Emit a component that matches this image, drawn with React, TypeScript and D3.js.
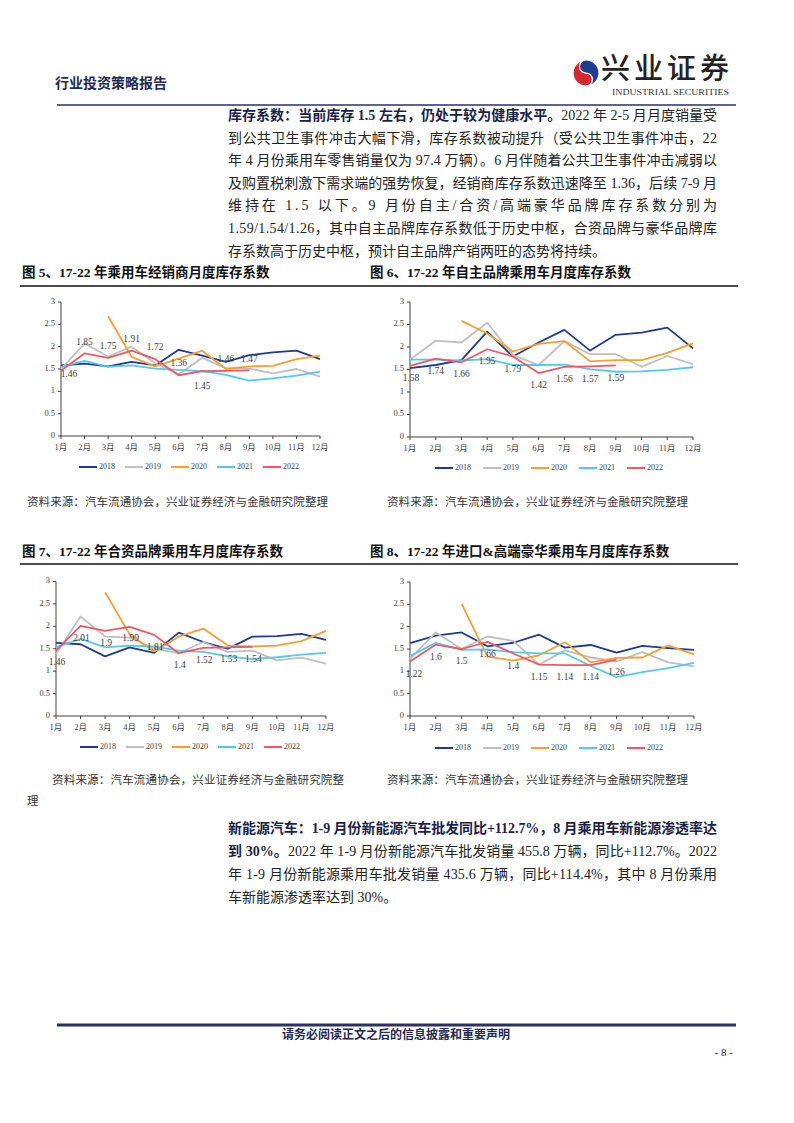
// 乘用车库存系数页面：四张折线小图 + 正文
import React from 'react'
import * as d3 from 'd3'

const MONTHS = ['1月', '2月', '3月', '4月', '5月', '6月', '7月', '8月', '9月', '10月', '11月', '12月']
const YEARS = ['2018', '2019', '2020', '2021', '2022']
const Y_TICKS = [0, 0.5, 1, 1.5, 2, 2.5, 3]

// 图5 经销商
const dealer2018 = [1.58, 1.62, 1.56, 1.66, 1.58, 1.93, 1.80, 1.66, 1.81, 1.87, 1.91, 1.72]
const dealer2019 = [1.50, 2.07, 1.78, 2.00, 1.63, 1.38, 1.75, 1.52, 1.51, 1.40, 1.50, 1.33]
const dealer2020 = [null, null, 2.68, 1.77, 1.56, 1.73, 1.91, 1.50, 1.56, 1.57, 1.72, 1.80]
const dealer2021 = [1.55, 1.68, 1.55, 1.58, 1.51, 1.48, 1.45, 1.37, 1.24, 1.29, 1.35, 1.44]
const dealer2022 = [1.46, 1.85, 1.75, 1.91, 1.72, 1.36, 1.45, 1.46, 1.47]

// 图6 自主品牌
const own2018 = [1.53, 1.60, 1.71, 2.34, 1.79, 2.10, 2.38, 1.92, 2.27, 2.32, 2.43, 1.97]
const own2019 = [1.72, 2.14, 2.10, 2.54, 1.82, 1.60, 2.13, 1.84, 1.84, 1.56, 1.80, 1.62]
const own2020 = [null, null, 2.58, 2.30, 1.90, 2.07, 2.13, 1.68, 1.71, 1.71, 1.87, 2.08]
const own2021 = [1.72, 1.72, 1.70, 1.73, 1.60, 1.60, 1.61, 1.51, 1.45, 1.46, 1.49, 1.55]
const own2022 = [1.58, 1.74, 1.66, 1.95, 1.79, 1.42, 1.56, 1.57, 1.59]

// 图7 合资品牌
const jv2018 = [1.63, 1.60, 1.33, 1.53, 1.41, 1.86, 1.65, 1.50, 1.77, 1.78, 1.83, 1.70]
const jv2019 = [1.38, 2.22, 1.77, 1.75, 1.50, 1.40, 1.65, 1.43, 1.46, 1.24, 1.30, 1.17]
const jv2020 = [null, null, 2.76, 1.82, 1.44, 1.77, 1.95, 1.57, 1.55, 1.57, 1.67, 1.90]
const jv2021 = [1.53, 1.72, 1.53, 1.57, 1.55, 1.46, 1.43, 1.33, 1.27, 1.31, 1.37, 1.41]
const jv2022 = [1.46, 2.01, 1.9, 1.99, 1.81, 1.4, 1.52, 1.53, 1.54]

// 图8 进口&高端豪华
const lux2018 = [1.63, 1.80, 1.87, 1.56, 1.64, 1.82, 1.53, 1.59, 1.42, 1.57, 1.52, 1.48]
const lux2019 = [1.28, 1.87, 1.50, 1.78, 1.68, 1.15, 1.47, 1.31, 1.22, 1.43, 1.20, 1.11]
const lux2020 = [null, null, 2.51, 1.33, 1.24, 1.36, 1.65, 1.20, 1.30, 1.31, 1.58, 1.38]
const lux2021 = [1.34, 1.64, 1.48, 1.49, 1.43, 1.40, 1.40, 1.12, 0.87, 0.98, 1.07, 1.19]
const lux2022 = [1.22, 1.6, 1.5, 1.66, 1.4, 1.15, 1.14, 1.14, 1.26]

const COLORS = ['#1f3a8f', '#bfbfbf', '#f5a032', '#56c8f0', '#ee5a63']
const SERIF = '"Liberation Serif", "Noto Sans CJK SC", serif'
const CJK = '"Liberation Serif", "Noto Sans CJK SC", sans-serif'

const CHARTS = [
  {
    series: [dealer2018, dealer2019, dealer2020, dealer2021, dealer2022],
    frame: { left: 61, right: 320, top: 302, bottom: 436, legendX: 79, legendStep: 46, legendY: 467 },
    labelOffsets: [[8, 4], [0, -11], [0, -11], [0, -11], [0, -11], [0, -11], [0, 16], [0, -11], [0, -11]],
  },
  {
    series: [own2018, own2019, own2020, own2021, own2022],
    frame: { left: 410, right: 693, top: 302, bottom: 437, legendX: 435, legendStep: 48, legendY: 468 },
    labelOffsets: [[1, 13], ...Array(8).fill([0, 13])],
  },
  {
    series: [jv2018, jv2019, jv2020, jv2021, jv2022],
    frame: { left: 56, right: 326, top: 581.5, bottom: 716, legendX: 80, legendStep: 46, legendY: 747 },
    labelOffsets: Array(9).fill([1, 12.5]),
  },
  {
    series: [lux2018, lux2019, lux2020, lux2021, lux2022],
    frame: { left: 410, right: 694, top: 582, bottom: 716, legendX: 435, legendStep: 48, legendY: 748 },
    labelOffsets: [[4, 13], ...Array(8).fill([0, 13])],
  },
]

function LineChart({ series, frame, labelOffsets }) {
  const x = d3.scalePoint().domain(MONTHS).range([frame.left, frame.right])
  const y = d3.scaleLinear().domain([0, 3]).range([frame.bottom, frame.top])
  const line = d3.line<number | null>()
    .defined(v => v != null)
    .x((v, i) => x(MONTHS[i]))
    .y(v => y(v as number))
  const last = series[series.length - 1]

  return (
    <g fontFamily={SERIF}>
      {/* 纵轴 */}
      <line x1={frame.left} x2={frame.left} y1={frame.top} y2={frame.bottom} stroke="#404040" strokeWidth={1} />
      {Y_TICKS.map(t => (
        <g key={t}>
          <line x1={frame.left - 3} x2={frame.left} y1={y(t)} y2={y(t)} stroke="#404040" />
          <text x={frame.left - 6} y={y(t)} textAnchor="end" dominantBaseline="middle" fontSize={8.5} fill="#404040">{t}</text>
        </g>
      ))}
      {/* 横轴 */}
      <line x1={frame.left} x2={frame.right} y1={frame.bottom} y2={frame.bottom} stroke="#404040" strokeWidth={1} />
      {MONTHS.map(m => (
        <g key={m}>
          <line x1={x(m)} x2={x(m)} y1={frame.bottom} y2={frame.bottom + 3} stroke="#404040" />
          <text x={x(m)} y={frame.bottom + 12} textAnchor="middle" dominantBaseline="middle" fontSize={8.5} fill="#404040">{m}</text>
        </g>
      ))}
      {series.map((s, i) => (
        <path key={i} d={line(s) || ''} fill="none" stroke={COLORS[i]} strokeWidth={1.8} strokeLinejoin="round" />
      ))}
      {last.map((v, i) => (
        <text key={i} x={x(MONTHS[i]) + labelOffsets[i][0]} y={y(v) + labelOffsets[i][1]}
          textAnchor="middle" dominantBaseline="middle" fontSize={9.5} fill="#404040">{String(v)}</text>
      ))}
      {/* 图例 */}
      {YEARS.map((yr, i) => {
        const lx = frame.legendX + i * frame.legendStep
        return (
          <g key={yr}>
            <line x1={lx} x2={lx + 18} y1={frame.legendY} y2={frame.legendY} stroke={COLORS[i]} strokeWidth={2} />
            <text x={lx + 20} y={frame.legendY} dominantBaseline="middle" fontSize={8} fill="#404040">{yr}</text>
          </g>
        )
      })}
    </g>
  )
}

const PARA1 = [
  [{ b: true, t: '库存系数：当前库存 1.5 左右，仍处于较为健康水平。' }, { t: '2022 年 2-5 月月度销量受' }],
  [{ t: '到公共卫生事件冲击大幅下滑，库存系数被动提升（受公共卫生事件冲击，22' }],
  [{ t: '年 4 月份乘用车零售销量仅为 97.4 万辆）。6 月伴随着公共卫生事件冲击减弱以' }],
  [{ t: '及购置税刺激下需求端的强势恢复，经销商库存系数迅速降至 1.36，后续 7-9 月' }],
  [{ t: '维持在 1.5 以下。9 月份自主/合资/高端豪华品牌库存系数分别为' }],
  [{ t: '1.59/1.54/1.26，其中自主品牌库存系数低于历史中枢，合资品牌与豪华品牌库' }],
  [{ t: '存系数高于历史中枢，预计自主品牌产销两旺的态势将持续。' }],
]
const PARA2 = [
  [{ b: true, t: '新能源汽车：1-9 月份新能源汽车批发同比+112.7%，8 月乘用车新能源渗透率达' }],
  [{ b: true, t: '到 30%。' }, { t: '2022 年 1-9 月份新能源汽车批发销量 455.8 万辆，同比+112.7%。2022' }],
  [{ t: '年 1-9 月份新能源乘用车批发销量 435.6 万辆，同比+114.4%，其中 8 月份乘用' }],
  [{ t: '车新能源渗透率达到 30%。' }],
]

function Paragraph({ lines, x, y0, step }) {
  return (
    <g fontFamily={CJK} fontSize={14}>
      {lines.map((segs, i) => (
        <text key={i} x={x} y={y0 + i * step} dominantBaseline="middle"
          textLength={i < lines.length - 1 ? 489 : undefined} lengthAdjust="spacing">
          {segs.map((s, j) => (
            <tspan key={j} fontWeight={s.b ? 700 : 400} fill={s.b ? '#1b1f4b' : '#222'}>{s.t}</tspan>
          ))}
        </text>
      ))}
    </g>
  )
}

const SOURCE = '资料来源：汽车流通协会，兴业证券经济与金融研究院整理'

export default function App() {
  return (
    <svg width={794} height={1123} style={{ position: 'absolute', left: 0, top: 0, background: '#fff' }}>
      {/* 页眉 */}
      <text x={55} y={85} fontFamily={CJK} fontSize={14} fontWeight={700} fill="#1f2a55" dominantBaseline="middle">行业投资策略报告</text>
      <g stroke="#fff" strokeWidth={1.2}>
        <path d="M 586 60 A 13 13 0 0 0 586 86 A 6.5 6.5 0 0 0 586 73 A 6.5 6.5 0 0 1 586 60 Z" fill="#d7282f" />
        <path d="M 586 60 A 13 13 0 0 1 586 86 A 6.5 6.5 0 0 0 586 73 A 6.5 6.5 0 0 1 586 60 Z" fill="#1d3d8f" />
      </g>
      <text x={601} y={72} fontFamily={CJK} fontSize={29} fontWeight={500} fill="#222" dominantBaseline="middle" textLength={128} lengthAdjust="spacing">兴业证券</text>
      <text x={612} y={93} fontFamily={SERIF} fontSize={8.5} fill="#333" dominantBaseline="middle" textLength={117} lengthAdjust="spacingAndGlyphs">INDUSTRIAL SECURITIES</text>
      <line x1={57} x2={736} y1={105} y2={105} stroke="#2b2f63" strokeWidth={1.5} />

      <Paragraph lines={PARA1} x={228} y0={117} step={22.6} />

      {/* 图题 */}
      <g fontFamily={CJK} fontSize={13.5} fontWeight={700} fill="#111">
        <text x={22} y={274} dominantBaseline="middle">图 5、17-22 年乘用车经销商月度库存系数</text>
        <text x={370} y={274} dominantBaseline="middle">图 6、17-22 年自主品牌乘用车月度库存系数</text>
        <text x={22} y={553} dominantBaseline="middle">图 7、17-22 年合资品牌乘用车月度库存系数</text>
        <text x={370} y={553} dominantBaseline="middle">图 8、17-22 年进口&amp;高端豪华乘用车月度库存系数</text>
      </g>
      <line x1={20} x2={738} y1={286} y2={286} stroke="#111" strokeWidth={1.5} />
      <line x1={20} x2={738} y1={564} y2={564} stroke="#111" strokeWidth={1.5} />

      {CHARTS.map((c, i) => <LineChart key={i} {...c} />)}

      {/* 资料来源 */}
      <g fontFamily={CJK} fontSize={11.5} fill="#333">
        <text x={27} y={503} dominantBaseline="middle" textLength={301} lengthAdjust="spacing">{SOURCE}</text>
        <text x={387} y={503} dominantBaseline="middle" textLength={301} lengthAdjust="spacing">{SOURCE}</text>
        <text x={52} y={781} dominantBaseline="middle" textLength={292} lengthAdjust="spacing">{SOURCE.slice(0, -1)}</text>
        <text x={27} y={802} dominantBaseline="middle">{SOURCE.slice(-1)}</text>
        <text x={387} y={781} dominantBaseline="middle" textLength={301} lengthAdjust="spacing">{SOURCE}</text>
      </g>

      <Paragraph lines={PARA2} x={228} y0={830} step={23} />

      {/* 页脚 */}
      <line x1={57} x2={736} y1={1025} y2={1025} stroke="#2e3160" strokeWidth={3} />
      <text x={396} y={1036} textAnchor="middle" dominantBaseline="middle" fontFamily={CJK} fontSize={12} fontWeight={700} fill="#1f2a55">请务必阅读正文之后的信息披露和重要声明</text>
      <text x={733} y={1053} textAnchor="end" dominantBaseline="middle" fontFamily={SERIF} fontSize={11} fill="#222">- 8 -</text>
    </svg>
  )
}
